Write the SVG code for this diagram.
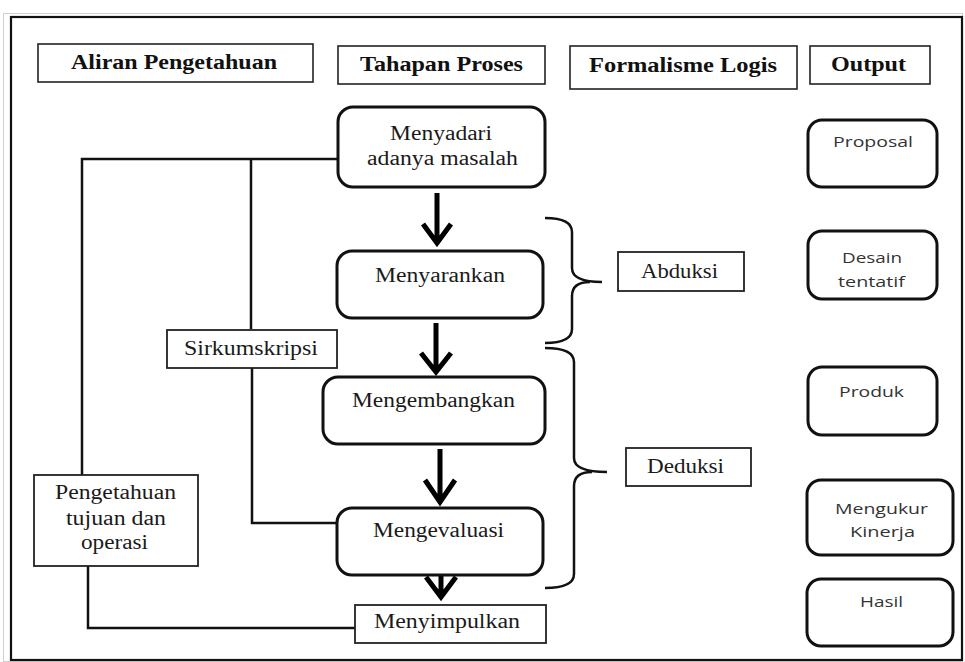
<svg xmlns="http://www.w3.org/2000/svg" width="965" height="662" viewBox="0 0 965 662">
<style>
.hdr{fill:#fff;stroke:#222;stroke-width:1.6}
.hd{font-family:"Liberation Serif",serif;font-weight:bold;font-size:20px;fill:#111}
.sq{fill:#fff;stroke:#222;stroke-width:1.8}
.rb{fill:#fff;stroke:#111;stroke-width:3}
.ob{fill:#fff;stroke:#111;stroke-width:3}
.st{font-family:"Liberation Serif",serif;font-size:20px;fill:#1a1a1a}
.ss{font-family:"Open Sans","Liberation Sans",sans-serif;font-size:14px;fill:#333}
.ln{fill:none;stroke:#111;stroke-width:2.5}
.ar{fill:none;stroke:#000;stroke-width:5;stroke-linejoin:miter}
.br{fill:none;stroke:#111;stroke-width:2.5}
</style>
<rect x="0" y="0" width="965" height="662" fill="#fff"/>
<rect x="3.5" y="13.5" width="959" height="648" fill="none" stroke="#d0d0d0" stroke-width="1"/>
<rect x="11" y="17" width="951" height="643" fill="none" stroke="#111" stroke-width="2.2"/>

<g id="connectors">
<path class="ln" d="M338,159 H82 V475"/>
<path class="ln" d="M251,159 V329"/>
<path class="ln" d="M252,368 V523 H337"/>
<path class="ln" d="M88,566 V628 H355"/>
<path class="ar" d="M437,193 V242 M423,224 L437,243 L451,224"/>
<path class="ar" d="M436,323 V371 M421,353 L436,372 L451,353"/>
<path class="ar" d="M440,449 V501 M425,480 L440,502 L455,480"/>
<path class="ar" d="M441,560 V596 M426,577 L441,597 L456,577"/>
<path class="br" d="M545,218 Q572,218 572,232 V268 Q572,282 602,282 M572,296 Q572,282 590,282 M572,296 V329 Q572,343 545,343"/>
<path class="br" d="M545,348 Q574,348 574,362 V458 Q574,472 607,472 M574,486 Q574,472 592,472 M574,486 V574 Q574,588 545,588"/>
</g>

<g id="hdr-aliran"><rect class="hdr" x="38" y="44" width="275" height="38"/><text class="hd" x="71" y="69" textLength="206" lengthAdjust="spacingAndGlyphs">Aliran Pengetahuan</text></g>
<g id="hdr-tahapan"><rect class="hdr" x="338" y="46" width="207" height="38"/><text class="hd" x="360" y="71" textLength="163" lengthAdjust="spacingAndGlyphs">Tahapan Proses</text></g>
<g id="hdr-formalisme"><rect class="hdr" x="570" y="46" width="227" height="43"/><text class="hd" x="589" y="72" textLength="188" lengthAdjust="spacingAndGlyphs">Formalisme Logis</text></g>
<g id="hdr-output"><rect class="hdr" x="810" y="46" width="120" height="38"/><text class="hd" x="831" y="71" textLength="75" lengthAdjust="spacingAndGlyphs">Output</text></g>

<g id="menyadari"><rect class="rb" x="338" y="107" width="207" height="80" rx="15"/><text class="st" x="390" y="140" textLength="102" lengthAdjust="spacingAndGlyphs">Menyadari</text><text class="st" x="367" y="165" textLength="151" lengthAdjust="spacingAndGlyphs">adanya masalah</text></g>
<g id="menyarankan"><rect class="rb" x="337" y="251" width="206" height="67" rx="15"/><text class="st" x="375" y="282" textLength="130" lengthAdjust="spacingAndGlyphs">Menyarankan</text></g>
<g id="mengembangkan"><rect class="rb" x="323" y="377" width="222" height="67" rx="15"/><text class="st" x="352" y="407" textLength="163" lengthAdjust="spacingAndGlyphs">Mengembangkan</text></g>
<g id="mengevaluasi"><rect class="rb" x="337" y="508" width="206" height="67" rx="15"/><text class="st" x="373" y="537" textLength="131" lengthAdjust="spacingAndGlyphs">Mengevaluasi</text></g>
<g id="menyimpulkan"><rect class="sq" x="355" y="605" width="191" height="38"/><text class="st" x="374" y="628" textLength="146" lengthAdjust="spacingAndGlyphs">Menyimpulkan</text></g>
<g id="sirkumskripsi"><rect class="sq" x="167" y="330" width="170" height="38"/><text class="st" x="184" y="355" textLength="134" lengthAdjust="spacingAndGlyphs">Sirkumskripsi</text></g>
<g id="pengetahuan"><rect class="sq" x="34" y="475" width="164" height="91"/><text class="st" x="55" y="499" textLength="121" lengthAdjust="spacingAndGlyphs">Pengetahuan</text><text class="st" x="66" y="525" textLength="100" lengthAdjust="spacingAndGlyphs">tujuan dan</text><text class="st" x="81" y="549" textLength="67" lengthAdjust="spacingAndGlyphs">operasi</text></g>
<g id="abduksi"><rect class="sq" x="618" y="252" width="126" height="39"/><text class="st" x="641" y="278" textLength="77" lengthAdjust="spacingAndGlyphs">Abduksi</text></g>
<g id="deduksi"><rect class="sq" x="626" y="448" width="125" height="38"/><text class="st" x="647" y="473" textLength="77" lengthAdjust="spacingAndGlyphs">Deduksi</text></g>

<g id="proposal"><rect class="ob" x="808" y="120" width="129" height="67" rx="14"/><text class="ss" x="833" y="147" textLength="80" lengthAdjust="spacingAndGlyphs">Proposal</text></g>
<g id="desain"><rect class="ob" x="808" y="231" width="129" height="68" rx="14"/><text class="ss" x="842" y="263" textLength="60" lengthAdjust="spacingAndGlyphs">Desain</text><text class="ss" x="838" y="287" textLength="67" lengthAdjust="spacingAndGlyphs">tentatif</text></g>
<g id="produk"><rect class="ob" x="808" y="367" width="129" height="68" rx="14"/><text class="ss" x="839" y="397" textLength="65" lengthAdjust="spacingAndGlyphs">Produk</text></g>
<g id="mengukur"><rect class="ob" x="807" y="480" width="146" height="75" rx="14"/><text class="ss" x="835" y="514" textLength="93" lengthAdjust="spacingAndGlyphs">Mengukur</text><text class="ss" x="850" y="537" textLength="65" lengthAdjust="spacingAndGlyphs">Kinerja</text></g>
<g id="hasil"><rect class="ob" x="807" y="579" width="146" height="67" rx="14"/><text class="ss" x="860" y="607" textLength="43" lengthAdjust="spacingAndGlyphs">Hasil</text></g>
</svg>
